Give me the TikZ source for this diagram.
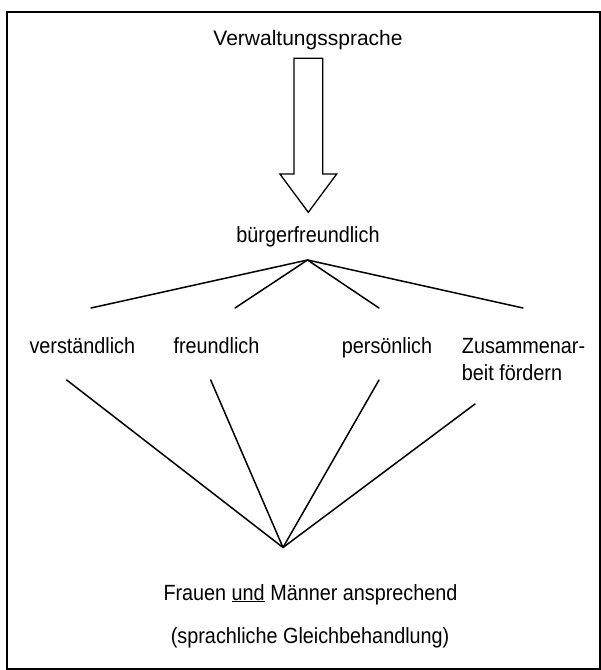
\documentclass[tikz,border=0pt]{standalone}
\usepackage{fontspec}
\setmainfont{Liberation Sans}
\newfontfamily\condfont[FakeStretch=0.9]{Liberation Sans}
\tikzset{
  toptext/.style={inner sep=0pt, font=\fontsize{21}{26}\selectfont},
  label/.style={inner sep=0pt, font=\condfont\fontsize{22}{27.4}\selectfont},
  conn/.style={line width=1.5pt, line cap=round},
  blockarrow/.style={line width=1.3pt, line join=miter, fill=white},
  frame/.style={line width=1.8pt}
}
\begin{document}
\begin{tikzpicture}[x=1pt,y=-1pt]
\useasboundingbox (0,0) rectangle (601,670);
\draw[frame] (7,12) rectangle (599.6,668.6);

\node[toptext, anchor=base] (verw) at (308,45) {Verwaltungssprache};
\draw[blockarrow] (294,58.3) -- (322.7,58.3) -- (322.7,174) -- (336.7,174)
  -- (308.3,212.3) -- (279.9,174) -- (294,174) -- cycle;

\node[label, anchor=base] (buerger) at (308,242.7) {bürgerfreundlich};
\coordinate (top) at (307.5,260);
\coordinate (u1) at (91,308);
\coordinate (u2) at (235,308);
\coordinate (u3) at (379,308);
\coordinate (u4) at (523,308);
\foreach \e in {u1,u2,u3,u4} \draw[conn] (top) -- (\e);

\node[label, anchor=base west] (verst) at (29.3,353.3) {verständlich};
\node[label, anchor=base west] (freund) at (173.3,353.3) {freundlich};
\node[label, anchor=base west] (pers) at (341.7,353.3) {persönlich};
\node[label, anchor=base west, align=left] (zus) at (461.7,380.7) {Zusammenar-\\beit fördern};

\coordinate (bot) at (283,547.5);
\coordinate (l1) at (66.7,380);
\coordinate (l2) at (210.7,380);
\coordinate (l3) at (379,380);
\coordinate (l4) at (475,404);
\foreach \e in {l1,l2,l3,l4} \draw[conn] (\e) -- (bot);

\node[label, anchor=base west] (frauen) at (163.3,600) {Frauen \underline{und} Männer ansprechend};
\node[label, anchor=base west] (gleich) at (170.7,643) {(sprachliche Gleichbehandlung)};
\end{tikzpicture}
\end{document}
